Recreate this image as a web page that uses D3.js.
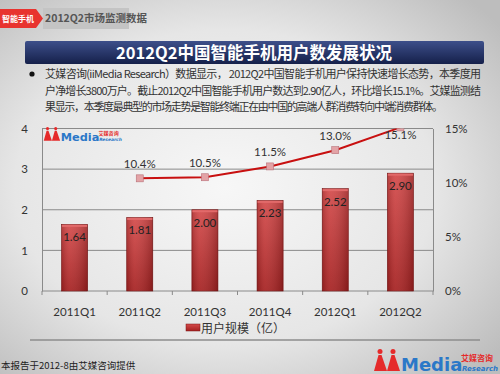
<!DOCTYPE html>
<html>
<head>
<meta charset="utf-8">
<script src="https://d3js.org/d3.v7.min.js"></script>
<style>
  body{ margin:0; }
  svg{ display:block; }
</style>
</head>
<body>
<script>
var quarters = ["2011Q1","2011Q2","2011Q3","2011Q4","2012Q1","2012Q2"];
var users = [1.64, 1.81, 2.00, 2.23, 2.52, 2.90];
var growth = [null, 10.4, 10.5, 11.5, 13.0, 15.1];
var leftTicks = [0,1,2,3,4];
var rightTicks = [0,5,10,15];
var bullet = ["艾媒咨询(iiMedia Research）数据显示， 2012Q2中国智能手机用户保持快速增长态势，本季度用",
              "户净增长3800万户。截止2012Q2中国智能手机用户数达到2.90亿人，环比增长15.1%。艾媒监测结",
              "果显示，本季度最典型的市场走势是智能终端正在由中国的高端人群消费转向中端消费群体。"];

var W = 500, H = 374;
var cn = "'Noto Sans CJK SC', sans-serif";
var num = "Lato, 'Noto Sans', sans-serif";

var svg = d3.select("body").append("svg").attr("width", W).attr("height", H);
var defs = svg.append("defs");

var bg = defs.append("radialGradient").attr("id","bg").attr("cx","45%").attr("cy","50%").attr("r","70%");
bg.append("stop").attr("offset","0%").attr("stop-color","#f7f7f7");
bg.append("stop").attr("offset","60%").attr("stop-color","#e6e6e6");
bg.append("stop").attr("offset","100%").attr("stop-color","#bdbdbd");
svg.append("rect").attr("width",W).attr("height",H).attr("fill","url(#bg)");

var tg = defs.append("linearGradient").attr("id","tg").attr("x1",0).attr("y1",0).attr("x2",0).attr("y2",1);
tg.append("stop").attr("offset","0%").attr("stop-color","#3d4f8a");
tg.append("stop").attr("offset","100%").attr("stop-color","#15204a");

var barG = defs.append("linearGradient").attr("id","barG").attr("x1",0).attr("y1",0).attr("x2",0).attr("y2",1);
barG.append("stop").attr("offset","0%").attr("stop-color","#d44a4a");
barG.append("stop").attr("offset","100%").attr("stop-color","#a52020");
var barS = defs.append("linearGradient").attr("id","barS").attr("x1",0).attr("y1",0).attr("x2",1).attr("y2",0);
barS.append("stop").attr("offset","0%").attr("stop-color","#000").attr("stop-opacity",0.15);
barS.append("stop").attr("offset","30%").attr("stop-color","#fff").attr("stop-opacity",0.08);
barS.append("stop").attr("offset","100%").attr("stop-color","#000").attr("stop-opacity",0.2);

// header tag
svg.append("path").attr("d","M0,9 H36 L43,18.5 L36,28 H0 Z").attr("fill","#e8332f");
svg.append("text").attr("x",18).attr("y",22).attr("text-anchor","middle")
  .attr("font-family",cn).attr("font-size",8).attr("font-weight","bold").attr("fill","#fff").text("智能手机");
svg.append("rect").attr("x",43).attr("y",8).attr("width",86).attr("height",21).attr("fill","#c4c4c4");
svg.append("text").attr("x",45).attr("y",22).attr("font-family",cn).attr("font-size",10.5)
  .attr("font-weight","bold").attr("fill","#555").text("2012Q2市场监测数据");

// title bar
svg.append("rect").attr("x",25).attr("y",41).attr("width",459).attr("height",23).attr("rx",2)
  .attr("fill","url(#tg)");
svg.append("text").attr("x",254).attr("y",58.5).attr("text-anchor","middle").attr("font-family",cn)
  .attr("font-size",16.5).attr("font-weight","bold").attr("fill","#fff").text("2012Q2中国智能手机用户数发展状况");

// bullet text
svg.append("circle").attr("cx",32).attr("cy",74).attr("r",2.6).attr("fill","#111");
svg.selectAll("text.b").data(bullet).enter().append("text").attr("class","b")
  .attr("x",45).attr("y",function(d,i){ return 78 + i*16.7; })
  .attr("font-family",cn).attr("font-size",11).attr("fill","#333")
  .attr("textLength",function(d,i){ return i==2 ? 398 : 436; })
  .attr("lengthAdjust","spacing")
  .text(function(d){ return d; });

// chart
var pLeft = 42, pRight = 433, pTop = 128.5, pBottom = 291;
var x = d3.scaleBand().domain(quarters).range([pLeft,pRight]).paddingInner(0.6).paddingOuter(0.3);
var band = d3.scalePoint().domain(quarters).range([pLeft,pRight]).padding(0.5);
var y = d3.scaleLinear().domain([0,4]).range([pBottom,pTop]);
var y2 = d3.scaleLinear().domain([0,15]).range([pBottom,pTop]);

svg.append("g").selectAll("line").data(leftTicks.slice(1)).enter().append("line")
  .attr("x1",pLeft).attr("x2",pRight).attr("y1",function(d){return y(d);}).attr("y2",function(d){return y(d);})
  .attr("stroke","#8a8a8a").attr("stroke-width",1);

var ax = svg.append("g").attr("transform","translate("+pLeft+",0)")
  .call(d3.axisLeft(y).tickValues(leftTicks).tickSize(0).tickPadding(14).tickFormat(d3.format("d")));
var ax2 = svg.append("g").attr("transform","translate("+pRight+",0)")
  .call(d3.axisRight(y2).tickValues(rightTicks).tickSize(0).tickPadding(12).tickFormat(function(d){return d+"%";}));
[ax,ax2].forEach(function(a){
  a.select(".domain").attr("stroke","#8a8a8a");
  a.selectAll("text").attr("font-family",num).attr("font-size",11.5).attr("fill","#333");
});

// x axis
var xb = svg.append("g").attr("transform","translate(0,"+pBottom+")");
xb.append("line").attr("x1",pLeft).attr("x2",pRight).attr("stroke","#8a8a8a");
var step = (pRight-pLeft)/quarters.length;
xb.selectAll("line.t").data(d3.range(quarters.length+1)).enter().append("line").attr("class","t")
  .attr("x1",function(i){return pLeft+i*step;}).attr("x2",function(i){return pLeft+i*step;})
  .attr("y1",0).attr("y2",4).attr("stroke","#8a8a8a");
xb.selectAll("text").data(quarters).enter().append("text")
  .attr("x",function(d){return band(d);}).attr("y",25).attr("text-anchor","middle")
  .attr("font-family",num).attr("font-size",11.5).attr("fill","#333").text(function(d){return d;});

// bars
var bars = svg.append("g").selectAll("g").data(users).enter().append("g");
bars.append("rect").attr("x",function(d,i){return x(quarters[i]);}).attr("y",function(d){return y(d);})
  .attr("width",x.bandwidth()).attr("height",function(d){return pBottom-y(d);})
  .attr("fill","url(#barG)").attr("stroke","#7a1515").attr("stroke-width",0.6);
bars.append("rect").attr("x",function(d,i){return x(quarters[i]);}).attr("y",function(d){return y(d);})
  .attr("width",x.bandwidth()).attr("height",function(d){return pBottom-y(d);})
  .attr("fill","url(#barS)");
bars.append("rect").attr("x",function(d,i){return x(quarters[i])+0.5;}).attr("y",function(d){return y(d)+0.5;})
  .attr("width",x.bandwidth()-1).attr("height",2).attr("fill","#e26a6a");
bars.append("text").attr("x",function(d,i){return band(quarters[i]);}).attr("y",function(d){return y(d)+17;})
  .attr("text-anchor","middle").attr("font-family",num).attr("font-size",11.5).attr("fill","#222")
  .text(function(d){return d.toFixed(2);});

// growth line
defs.append("clipPath").attr("id","clip").append("rect").attr("x",pLeft).attr("y",pTop)
  .attr("width",pRight-pLeft).attr("height",pBottom-pTop);
var pts = quarters.map(function(q,i){ return {q:q, v:growth[i]}; }).filter(function(d){return d.v!=null;});
var line = d3.line().x(function(d){return band(d.q);}).y(function(d){return y2(d.v);});
svg.append("path").datum(pts).attr("d",line).attr("fill","none").attr("stroke","#c81010")
  .attr("stroke-width",2).attr("clip-path","url(#clip)");
var mk = svg.append("g").attr("clip-path","url(#clip)");
mk.selectAll("rect").data(pts).enter().append("rect")
  .attr("x",function(d){return band(d.q)-3.5;}).attr("y",function(d){return y2(d.v)-3.5;})
  .attr("width",7).attr("height",7).attr("fill","#e3a3a6").attr("stroke","#b87078").attr("stroke-width",0.6);
svg.append("g").selectAll("text").data(pts).enter().append("text")
  .attr("x",function(d){return band(d.q);})
  .attr("y",function(d){return d.v>15 ? pTop+10 : y2(d.v)-10;})
  .attr("text-anchor","middle").attr("font-family",num).attr("font-size",11.5).attr("fill","#333")
  .text(function(d){return d.v.toFixed(1)+"%";});

// legend
svg.append("rect").attr("x",186).attr("y",324).attr("width",14).attr("height",7).attr("fill","url(#barG)")
  .attr("stroke","#7a1515").attr("stroke-width",0.5);
svg.append("text").attr("x",201).attr("y",333).attr("font-family",cn).attr("font-size",12).attr("fill","#333")
  .text("用户规模（亿）");

// separator and footer
svg.append("line").attr("x1",30).attr("x2",480).attr("y1",340).attr("y2",340).attr("stroke","#8c8c8c").attr("stroke-width",1.5);
svg.append("text").attr("x",1).attr("y",369).attr("font-family",cn).attr("font-size",9.5).attr("fill","#222")
  .text("本报告于2012-8由艾媒咨询提供");

// logos
function logo(g, s){
  [0,13].forEach(function(dx){
    g.append("circle").attr("cx",(4+dx)*s).attr("cy",2.5*s).attr("r",2.5*s).attr("fill","#e52a2a");
    g.append("path").attr("d","M"+((2.5+dx)*s)+","+(6*s)+" L"+((5.5+dx)*s)+","+(6*s)+" L"+((11+dx)*s)+","+(22*s)+" L"+((-2+dx)*s)+","+(22*s)+" Z")
      .attr("fill","#e52a2a");
  });
  g.append("text").attr("x",25*s).attr("y",22*s).attr("font-family","'DejaVu Sans', sans-serif")
    .attr("font-weight","bold").attr("font-size",18*s).attr("fill","#2b78c8").text("Media");
  g.append("text").attr("x",85*s).attr("y",12*s).attr("font-family",cn).attr("font-weight","bold")
    .attr("font-size",8*s).attr("fill","#e52a2a").text("艾媒咨询");
  g.append("text").attr("x",86*s).attr("y",21.5*s).attr("font-family","'DejaVu Sans', sans-serif")
    .attr("font-style","italic").attr("font-weight","bold").attr("font-size",7*s).attr("fill","#2b78c8").text("Research");
}
logo(svg.append("g").attr("transform","translate(376,349)"), 1);
logo(svg.append("g").attr("transform","translate(45,127)"), 0.63);
</script>
</body>
</html>
